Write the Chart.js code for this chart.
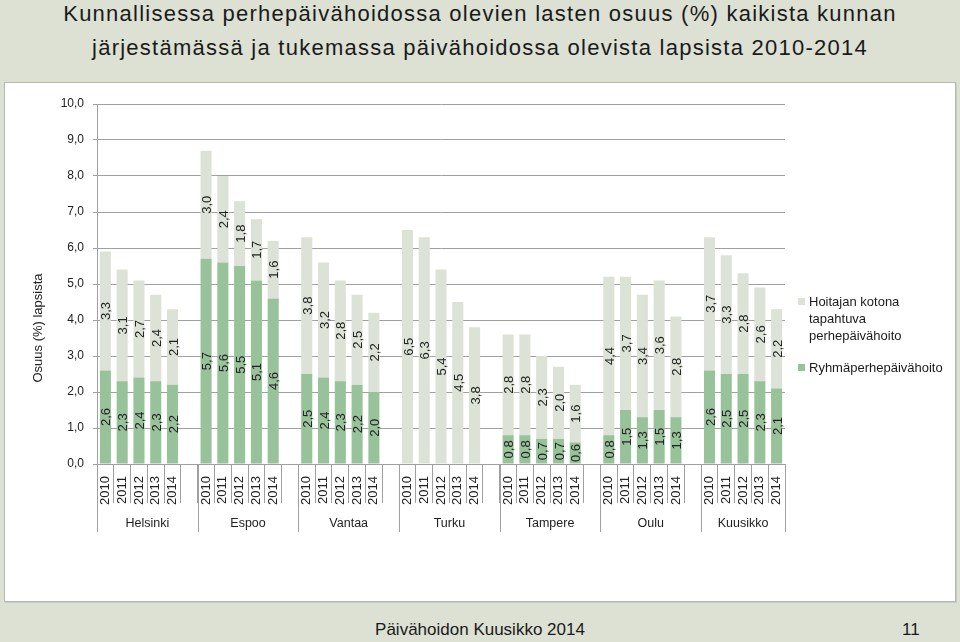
<!DOCTYPE html>
<html>
<head>
<meta charset="utf-8">
<script src="https://cdn.jsdelivr.net/npm/chart.js@4"></script>
<style>
  html, body { margin: 0; padding: 0; }
  body { width: 960px; height: 642px; overflow: hidden; background: #dce1d3; position: relative;
         font-family: "Liberation Sans", Arial, sans-serif; color: #1a1a1a; }
  #title { position: absolute; left: 0; top: -3px; width: 960px; text-align: center;
           font-size: 22px; line-height: 34px; letter-spacing: 1.25px; }
  #panel { position: absolute; left: 4px; top: 82px; width: 950px; height: 518px; background: #fff;
           border: 1px solid #b4b8ad; box-shadow: 1px 1px 0 #c9cdc1; }
  #chart { position: absolute; left: 0; top: 0; }
  #legend { position: absolute; left: 793px; top: 210px; width: 150px; font-size: 13px; line-height: 17px; color: #1a1a1a; }
  .item { position: relative; padding-left: 11px; margin-bottom: 15px; }
  .sw { position: absolute; left: 0; top: 5px; width: 7px; height: 7px; }
  #footer { position: absolute; left: 0; top: 620px; width: 960px; text-align: center; font-size: 17px; line-height: 20px; }
  #page { position: absolute; left: 902px; top: 620px; font-size: 17px; line-height: 20px; }
</style>
</head>
<body>
<div id="title">Kunnallisessa perhepäivähoidossa olevien lasten osuus (%) kaikista kunnan<br>järjestämässä ja tukemassa päivähoidossa olevista lapsista 2010-2014</div>
<div id="panel">
  <canvas id="chart" width="950" height="518"></canvas>
  <div id="legend"></div>
</div>
<div id="footer">Päivähoidon Kuusikko 2014</div>
<div id="page">11</div>
<script>
const cities = ['Helsinki', 'Espoo', 'Vantaa', 'Turku', 'Tampere', 'Oulu', 'Kuusikko'];
const years = ['2010', '2011', '2012', '2013', '2014'];
const yTicks = [0, 1, 2, 3, 4, 5, 6, 7, 8, 9, 10];
const yTitle = 'Osuus (%) lapsista';
// Ryhmäperhepäivähoito (dark green), per city 2010-2014
const groupCare = [
  2.6, 2.3, 2.4, 2.3, 2.2,
  5.7, 5.6, 5.5, 5.1, 4.6,
  2.5, 2.4, 2.3, 2.2, 2.0,
  0, 0, 0, 0, 0,
  0.8, 0.8, 0.7, 0.7, 0.6,
  0.8, 1.5, 1.3, 1.5, 1.3,
  2.6, 2.5, 2.5, 2.3, 2.1
];
// Hoitajan kotona tapahtuva perhepäivähoito (light), per city 2010-2014
const homeCare = [
  3.3, 3.1, 2.7, 2.4, 2.1,
  3.0, 2.4, 1.8, 1.7, 1.6,
  3.8, 3.2, 2.8, 2.5, 2.2,
  6.5, 6.3, 5.4, 4.5, 3.8,
  2.8, 2.8, 2.3, 2.0, 1.6,
  4.4, 3.7, 3.4, 3.6, 2.8,
  3.7, 3.3, 2.8, 2.6, 2.2
];
const seriesNames = ['Ryhmäperhepäivähoito', 'Hoitajan kotona tapahtuva perhepäivähoito'];
const seriesColors = ['#98c29a', '#dde2d6'];

// Build category axis: 5 years per city, blank slot between cities
const labels = [], darkData = [], lightData = [], groupStart = [];
cities.forEach((c, gi) => {
  groupStart.push(labels.length);
  years.forEach((y, yi) => {
    labels.push(y);
    darkData.push(groupCare[gi * 5 + yi]);
    lightData.push(homeCare[gi * 5 + yi]);
  });
  if (gi < cities.length - 1) { labels.push(''); darkData.push(null); lightData.push(null); }
});
groupStart.push(labels.length);

const fmt = v => v.toFixed(1).replace('.', ',');
const FONT = '"Liberation Sans", Arial, sans-serif';

const valueLabels = {
  id: 'valueLabels',
  afterDatasetsDraw(chart) {
    const ctx = chart.ctx;
    ctx.save();
    ctx.font = '13px ' + FONT;
    ctx.fillStyle = '#222';
    ctx.textAlign = 'center';
    ctx.textBaseline = 'middle';
    chart.data.datasets.forEach((ds, di) => {
      const meta = chart.getDatasetMeta(di);
      meta.data.forEach((el, i) => {
        const v = ds.data[i];
        if (v == null || v <= 0) return;
        const p = el.getProps(['x', 'y', 'base'], true);
        ctx.save();
        ctx.translate(p.x + 1.5, (p.y + p.base) / 2);
        ctx.rotate(-Math.PI / 2);
        ctx.fillText(fmt(v), 0, 0);
        ctx.restore();
      });
    });
    ctx.restore();
  }
};

const axisExtras = {
  id: 'axisExtras',
  afterDraw(chart) {
    const xs = chart.scales.x, ys = chart.scales.y, ctx = chart.ctx;
    const step = xs.getPixelForValue(1) - xs.getPixelForValue(0);
    const edge = idx => xs.getPixelForValue(idx) - step / 2;
    ctx.save();
    ctx.strokeStyle = '#a0a0a0';
    ctx.lineWidth = 1;
    groupStart.forEach(idx => {
      const x = Math.round(edge(idx)) + 0.5;
      ctx.beginPath();
      ctx.moveTo(x, xs.top);
      ctx.lineTo(x, xs.top + 68);
      ctx.stroke();
    });
    ctx.font = '12.5px ' + FONT;
    ctx.fillStyle = '#222';
    ctx.textAlign = 'center';
    ctx.textBaseline = 'middle';
    cities.forEach((c, gi) => {
      const x = (edge(groupStart[gi]) + edge(groupStart[gi + 1])) / 2;
      ctx.fillText(c, x, xs.top + 60);
    });
    // y-axis title, placed lower than the plot centre as in the original
    ctx.font = '13px ' + FONT;
    ctx.translate(ys.left + 33, ys.bottom - 136);
    ctx.rotate(-Math.PI / 2);
    ctx.fillText(yTitle, 0, 0);
    ctx.restore();
  }
};

const chart = new Chart(document.getElementById('chart'), {
  type: 'bar',
  data: {
    labels: labels,
    datasets: [
      { label: seriesNames[0], data: darkData, backgroundColor: seriesColors[0], stack: 's' },
      { label: seriesNames[1], data: lightData, backgroundColor: seriesColors[1], stack: 's' }
    ]
  },
  options: {
    responsive: false,
    animation: false,
    layout: { padding: { top: 21, right: 170, left: 0, bottom: 0 } },
    datasets: { bar: { barPercentage: 0.66, categoryPercentage: 1 } },
    plugins: { legend: { display: false }, tooltip: { enabled: false } },
    scales: {
      x: {
        stacked: true,
        afterFit: s => { s.height = 137; },
        grid: { offset: true, drawOnChartArea: false, tickLength: 39, color: '#a0a0a0' },
        border: { color: '#a0a0a0' },
        ticks: { autoSkip: false, minRotation: 90, maxRotation: 90, padding: -27,
                 color: '#222', font: { size: 13, family: FONT } }
      },
      y: {
        stacked: true,
        min: yTicks[0], max: yTicks[yTicks.length - 1],
        afterFit: s => { s.width = 92; },
        afterBuildTicks: s => { s.ticks = yTicks.map(v => ({ value: v })); },
        grid: { color: '#a0a0a0', tickLength: 4 },
        border: { color: '#a0a0a0' },
        ticks: { padding: 9, color: '#222', font: { size: 12, family: FONT }, callback: v => fmt(v) },
        title: { display: false }
      }
    }
  },
  plugins: [valueLabels, axisExtras]
});

// HTML legend built from datasets (light first, as in the original)
const legend = document.getElementById('legend');
legend.style.top = (chart.chartArea.top + 189) + 'px';
chart.data.datasets.slice().reverse().forEach(ds => {
  const d = document.createElement('div');
  d.className = 'item';
  d.innerHTML = '<span class="sw" style="background:' + ds.backgroundColor + '"></span>' + ds.label;
  legend.appendChild(d);
});
</script>
</body>
</html>
